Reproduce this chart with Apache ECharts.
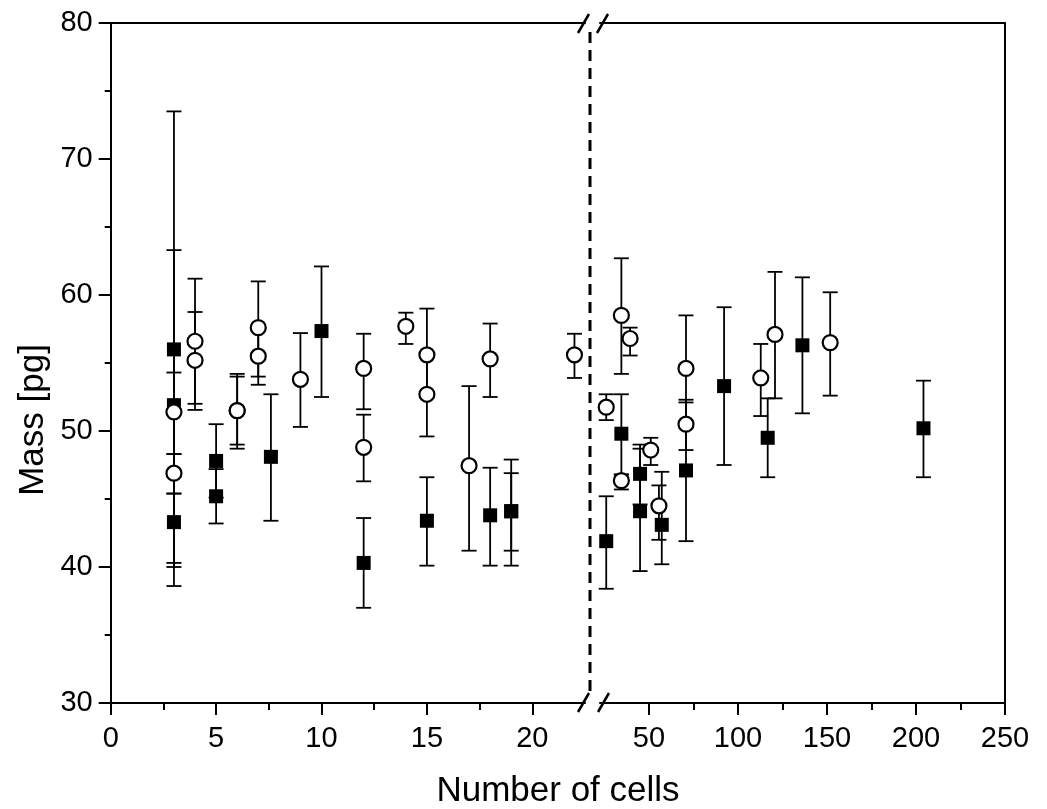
<!DOCTYPE html>
<html>
<head>
<meta charset="utf-8">
<script src="https://cdn.jsdelivr.net/npm/echarts@6/dist/echarts.min.js"></script>
<style>
html,body{margin:0;padding:0;background:#fff;}
#chart{width:1047px;height:809px;}
</style>
</head>
<body>
<div id="chart"></div>
<script>
// ---------- data ----------
// filled squares
var sqX  = [3, 3, 3, 5, 5, 7.6, 10, 12, 15, 18, 19, 19, 26, 34.5, 45, 45, 57.2, 70.8, 92.2, 116.7, 136.2, 204.2];
var sqY  = [56.0, 51.9, 43.3, 47.8, 45.2, 48.1, 57.35, 40.3, 43.4, 43.8, 44.1, 44.1, 41.9, 49.8, 46.85, 44.1, 43.1, 47.1, 53.3, 49.5, 56.3, 50.2];
var sqLo = [38.6, 40.3, 40.0, 45.1, 43.2, 43.4, 52.5, 37.0, 40.1, 40.1, 40.1, 41.2, 38.4, 46.8, 44.6, 39.7, 40.2, 41.9, 47.5, 46.6, 51.3, 46.6];
var sqHi = [73.5, 63.3, 45.4, 50.5, 47.2, 52.7, 62.1, 43.6, 46.6, 47.3, 47.9, 46.9, 45.2, 52.7, 49.0, 48.7, 47.0, 52.3, 59.1, 52.4, 61.3, 53.7];
// open circles
var ciX  = [3, 3, 4, 4, 6, 6, 7, 7, 9, 12, 12, 14, 15, 15, 17, 18, 22, 26, 34.5, 34.5, 39.4, 51, 55.6, 70.8, 70.8, 112.8, 120.8, 151.8];
var ciY  = [51.4, 46.9, 56.6, 55.2, 51.5, 51.5, 57.6, 55.5, 53.8, 54.6, 48.8, 57.7, 55.6, 52.7, 47.45, 55.3, 55.6, 51.75, 58.5, 46.35, 56.8, 48.6, 44.5, 54.6, 50.5, 53.9, 57.1, 56.5];
var ciLo = [48.3, 45.4, 52.0, 51.55, 48.7, 49.0, 54.0, 53.4, 50.3, 51.6, 46.3, 56.4, 52.7, 49.6, 41.2, 52.5, 53.9, 50.8, 54.2, 45.7, 55.55, 47.5, 42.0, 50.6, 48.6, 51.1, 52.4, 52.6];
var ciHi = [54.3, 48.3, 61.2, 58.75, 54.2, 54.0, 61.0, 57.4, 57.2, 57.15, 51.2, 58.7, 59.0, 55.6, 53.3, 57.9, 57.15, 52.7, 62.7, 46.8, 57.6, 49.5, 46.0, 58.5, 52.1, 56.4, 61.7, 60.2];

// axis ticks / labels
var breakAt = 22.5;
var xMaxRight = 250;
var leftMajor = [0, 5, 10, 15, 20];
var leftMinor = [2.5, 7.5, 12.5, 17.5];
var rightMajor = [50, 100, 150, 200, 250];
var rightMinor = [75, 125, 175, 225];
var yMin = 30, yMax = 80, yStep = 10;
var xTitle = 'Number of cells';
var yTitle = 'Mass [pg]';

// ---------- build ----------
function pts(X, Y, side) {
  var out = [];
  for (var i = 0; i < X.length; i++) {
    if ((side === 'L') === (X[i] <= breakAt)) out.push([X[i], Y[i]]);
  }
  return out;
}
function errs(X, Lo, Hi, side) {
  var out = [];
  for (var i = 0; i < X.length; i++) {
    if ((side === 'L') === (X[i] <= breakAt)) out.push([X[i], Lo[i], Hi[i]]);
  }
  return out;
}
function errRender(params, api) {
  var x = api.value(0), lo = api.value(1), hi = api.value(2);
  var a = api.coord([x, lo]), b = api.coord([x, hi]);
  var hw = 7.5;
  var st = {stroke: '#000', lineWidth: 1.8};
  return {type: 'group', children: [
    {type: 'line', shape: {x1: a[0], y1: a[1], x2: b[0], y2: b[1]}, style: st},
    {type: 'line', shape: {x1: a[0] - hw, y1: a[1], x2: a[0] + hw, y2: a[1]}, style: st},
    {type: 'line', shape: {x1: b[0] - hw, y1: b[1], x2: b[0] + hw, y2: b[1]}, style: st}
  ]};
}

var FONT = "'Liberation Sans', Arial, sans-serif";
var lineSt = {color: '#000', width: 2};
var G_TOP = 23, G_BOTTOM = 703;
var LEFT0 = 110.7, LEFT1 = 585, RIGHT0 = 600, RIGHT1 = 1005;

function xMajor(grid, min, max, vals) {
  return {gridIndex: grid, type: 'value', min: min, max: max, position: 'bottom',
    axisLine: {show: true, lineStyle: lineSt},
    axisTick: {show: true, customValues: vals, length: 12, lineStyle: lineSt},
    axisLabel: {show: true, customValues: vals, fontSize: 29, color: '#000', fontFamily: FONT, margin: 21},
    splitLine: {show: false}};
}
function xMinor(grid, min, max, vals) {
  return {gridIndex: grid, type: 'value', min: min, max: max, position: 'bottom',
    axisLine: {show: false},
    axisTick: {show: true, customValues: vals, length: 7, lineStyle: lineSt},
    axisLabel: {show: false}, splitLine: {show: false}};
}
function xTop(grid, min, max) {
  return {gridIndex: grid, type: 'value', min: min, max: max, position: 'top',
    axisLine: {show: true, lineStyle: lineSt},
    axisTick: {show: false}, axisLabel: {show: false}, splitLine: {show: false}};
}

var sqStyle = {color: '#000', opacity: 1};
var ciStyle = {color: '#fff', borderColor: '#000', borderWidth: 2.2, opacity: 1};

var option = {
  backgroundColor: '#ffffff',
  animation: false,
  grid: [
    {left: LEFT0, top: G_TOP, width: LEFT1 - LEFT0, height: G_BOTTOM - G_TOP, containLabel: false, outerBoundsMode: 'none'},
    {left: RIGHT0, top: G_TOP, width: RIGHT1 - RIGHT0, height: G_BOTTOM - G_TOP, containLabel: false, outerBoundsMode: 'none'}
  ],
  xAxis: [
    xMajor(0, 0, breakAt, leftMajor),
    xMinor(0, 0, breakAt, leftMinor),
    xTop(0, 0, breakAt),
    xMajor(1, breakAt, xMaxRight, rightMajor),
    xMinor(1, breakAt, xMaxRight, rightMinor),
    xTop(1, breakAt, xMaxRight)
  ],
  yAxis: [
    {gridIndex: 0, type: 'value', min: yMin, max: yMax, interval: yStep, position: 'left',
      axisLine: {show: true, lineStyle: lineSt},
      axisTick: {show: true, length: 12, lineStyle: lineSt},
      minorTick: {show: true, splitNumber: 2, length: 6, lineStyle: lineSt},
      axisLabel: {fontSize: 29, color: '#000', fontFamily: FONT, margin: 18},
      splitLine: {show: false}, minorSplitLine: {show: false}},
    {gridIndex: 1, type: 'value', min: yMin, max: yMax, interval: yStep, position: 'right',
      axisLine: {show: true, lineStyle: lineSt},
      axisTick: {show: false}, axisLabel: {show: false}, splitLine: {show: false}}
  ],
  series: [
    {type: 'custom', xAxisIndex: 0, yAxisIndex: 0, renderItem: errRender, data: errs(sqX, sqLo, sqHi, 'L'), clip: false, silent: true},
    {type: 'custom', xAxisIndex: 3, yAxisIndex: 1, renderItem: errRender, data: errs(sqX, sqLo, sqHi, 'R'), clip: false, silent: true},
    {type: 'scatter', xAxisIndex: 0, yAxisIndex: 0, symbol: 'rect', symbolSize: 14, itemStyle: sqStyle, data: pts(sqX, sqY, 'L')},
    {type: 'scatter', xAxisIndex: 3, yAxisIndex: 1, symbol: 'rect', symbolSize: 14, itemStyle: sqStyle, data: pts(sqX, sqY, 'R')},
    {type: 'custom', xAxisIndex: 0, yAxisIndex: 0, renderItem: errRender, data: errs(ciX, ciLo, ciHi, 'L'), clip: false, silent: true},
    {type: 'custom', xAxisIndex: 3, yAxisIndex: 1, renderItem: errRender, data: errs(ciX, ciLo, ciHi, 'R'), clip: false, silent: true},
    {type: 'scatter', xAxisIndex: 0, yAxisIndex: 0, symbol: 'circle', symbolSize: 15, itemStyle: ciStyle, data: pts(ciX, ciY, 'L')},
    {type: 'scatter', xAxisIndex: 3, yAxisIndex: 1, symbol: 'circle', symbolSize: 15, itemStyle: ciStyle, data: pts(ciX, ciY, 'R')}
  ],
  graphic: [
    // dashed break line
    {type: 'line', shape: {x1: 590, y1: 32, x2: 590, y2: 698}, style: {stroke: '#000', lineWidth: 3, lineDash: [11, 7]}},
    // break marks top
    {type: 'line', shape: {x1: 578, y1: 33, x2: 589, y2: 14}, style: {stroke: '#000', lineWidth: 2.5}},
    {type: 'line', shape: {x1: 597, y1: 33, x2: 608, y2: 14}, style: {stroke: '#000', lineWidth: 2.5}},
    // break marks bottom
    {type: 'line', shape: {x1: 578, y1: 712, x2: 589, y2: 693}, style: {stroke: '#000', lineWidth: 2.5}},
    {type: 'line', shape: {x1: 598, y1: 712, x2: 609, y2: 693}, style: {stroke: '#000', lineWidth: 2.5}},
    // titles
    {type: 'text', x: 558, y: 791, style: {text: xTitle, fontSize: 35, fontFamily: FONT, fill: '#000', align: 'center', verticalAlign: 'middle'}},
    {type: 'text', x: 33, y: 420, rotation: Math.PI / 2, style: {text: yTitle, fontSize: 35, fontFamily: FONT, fill: '#000', align: 'center', verticalAlign: 'middle'}}
  ]
};
var chart = echarts.init(document.getElementById('chart'), null, {renderer: 'canvas'});
chart.setOption(option);
</script>
</body>
</html>
